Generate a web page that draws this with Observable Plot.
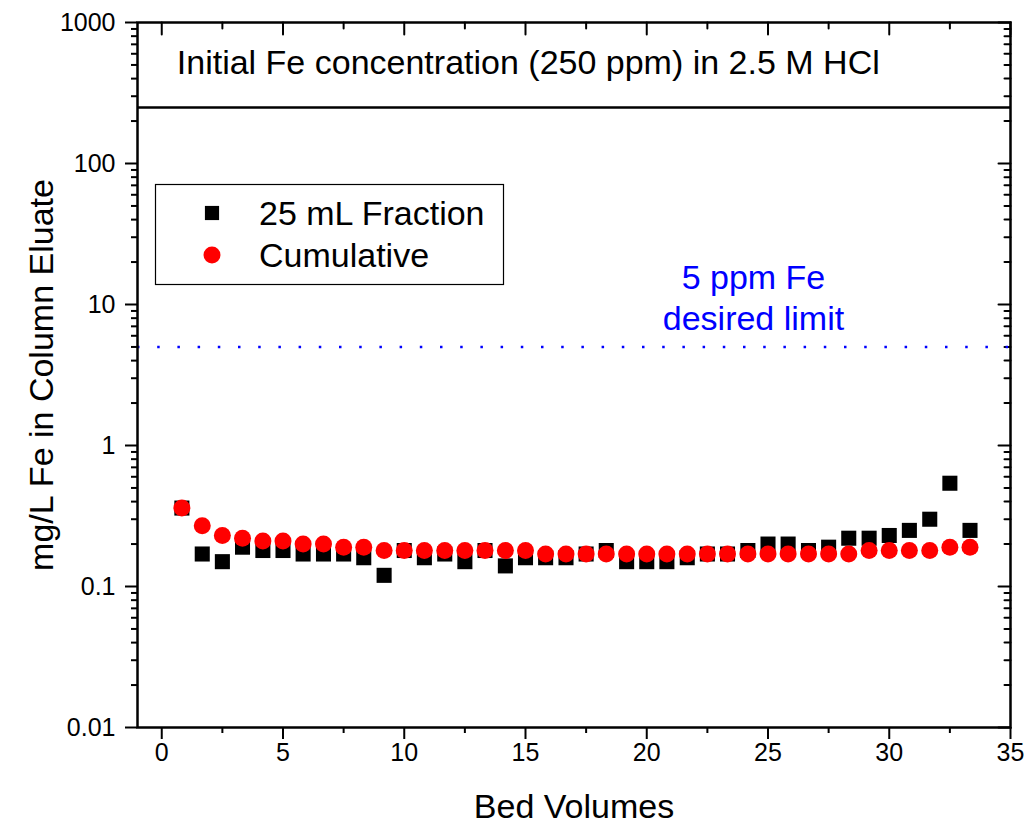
<!DOCTYPE html>
<html>
<head>
<meta charset="utf-8">
<script src="https://cdn.jsdelivr.net/npm/d3@7"></script>
<script src="https://cdn.jsdelivr.net/npm/@observablehq/plot@0.6"></script>
<style>
  html, body { margin: 0; padding: 0; background: #fff; }
  #chart { width: 1029px; height: 826px; }
  svg { font-family: "Liberation Sans", Arial, sans-serif; }
</style>
</head>
<body>
<div id="chart"></div>
<script>
// ---- data ----
const bedVolumes = [0.83, 1.67, 2.5, 3.33, 4.17, 5, 5.83, 6.67, 7.5, 8.33, 9.17, 10, 10.83, 11.67, 12.5, 13.33, 14.17, 15, 15.83, 16.67, 17.5, 18.33, 19.17, 20, 20.83, 21.67, 22.5, 23.33, 24.17, 25, 25.83, 26.67, 27.5, 28.33, 29.17, 30, 30.83, 31.67, 32.5, 33.33];
const fraction = [0.36, 0.17, 0.15, 0.19, 0.18, 0.18, 0.17, 0.17, 0.17, 0.16, 0.12, 0.18, 0.16, 0.17, 0.15, 0.18, 0.14, 0.16, 0.16, 0.16, 0.17, 0.18, 0.15, 0.15, 0.15, 0.16, 0.17, 0.17, 0.18, 0.20, 0.20, 0.18, 0.19, 0.22, 0.22, 0.23, 0.25, 0.30, 0.54, 0.25];
const cumulative = [0.36, 0.27, 0.23, 0.22, 0.21, 0.21, 0.20, 0.20, 0.19, 0.19, 0.18, 0.18, 0.18, 0.18, 0.18, 0.18, 0.18, 0.18, 0.17, 0.17, 0.17, 0.17, 0.17, 0.17, 0.17, 0.17, 0.17, 0.17, 0.17, 0.17, 0.17, 0.17, 0.17, 0.17, 0.18, 0.18, 0.18, 0.18, 0.19, 0.19];
const seriesNames = ["25 mL Fraction", "Cumulative"];
const initialFe = 250;
const limitFe = 5;
const titleText = "Initial Fe concentration (250 ppm) in 2.5 M HCl";
const limitText = "5 ppm Fe\ndesired limit";
const xLabel = "Bed Volumes";
const yLabel = "mg/L Fe in Column Eluate";
const xMajor = [0, 5, 10, 15, 20, 25, 30, 35];
const xMinor = [2.5, 7.5, 12.5, 17.5, 22.5, 27.5, 32.5];
const yMajor = [0.01, 0.1, 1, 10, 100, 1000];
const yTickLabels = ["0.01", "0.1", "1", "10", "100", "1000"];
const yMinor = [0.01, 0.1, 1, 10, 100].flatMap(d => [2,3,4,5,6,7,8,9].map(k => +(d * k).toPrecision(3)));

const fracData = bedVolumes.map((x, i) => ({x, y: fraction[i]}));
const cumData = bedVolumes.map((x, i) => ({x, y: cumulative[i]}));
const yLabelOf = d => yTickLabels[yMajor.indexOf(d)] ?? String(d);

const tickShape = { draw(context, l) { context.moveTo(0, 0); context.lineTo(0, -l); } };
const FS = 34;

const plot = Plot.plot({
  width: 1029,
  height: 826,
  marginLeft: 137,
  marginRight: 19,
  marginTop: 22,
  marginBottom: 99,
  style: { fontFamily: '"Liberation Sans", Arial, sans-serif', background: "#fff" },
  x: { type: "linear", domain: [-1, 35] },
  y: { type: "log", domain: [0.01, 1000] },
  marks: [
    // axes (outward)
    Plot.axisY(yMajor, { anchor: "left", tickSize: 12, tickPadding: 10, fontSize: 25, strokeWidth: 2, tickFormat: yLabelOf, label: null }),
    Plot.axisY(yMinor, { anchor: "left", tickSize: 6, strokeWidth: 2, tickFormat: () => "", label: null }),
    Plot.axisX(xMajor, { anchor: "bottom", tickSize: 12, tickPadding: 4, fontSize: 25, strokeWidth: 2, label: null }),
    Plot.axisX(xMinor, { anchor: "bottom", tickSize: 6, strokeWidth: 2, tickFormat: () => "", label: null }),
    // inward ticks on right and top
    Plot.vector(yMajor, { x: () => 35, y: d => d, length: 12, rotate: -90, anchor: "start", shape: tickShape, stroke: "#000", strokeWidth: 2 }),
    Plot.vector(yMinor, { x: () => 35, y: d => d, length: 6, rotate: -90, anchor: "start", shape: tickShape, stroke: "#000", strokeWidth: 2 }),
    Plot.vector(xMajor, { x: d => d, y: () => 1000, length: 12, rotate: 180, anchor: "start", shape: tickShape, stroke: "#000", strokeWidth: 2 }),
    Plot.vector(xMinor, { x: d => d, y: () => 1000, length: 6, rotate: 180, anchor: "start", shape: tickShape, stroke: "#000", strokeWidth: 2 }),
    // reference lines
    Plot.ruleY([initialFe], { stroke: "#000", strokeWidth: 2.5 }),
    Plot.ruleY([limitFe], { stroke: "#0000ff", strokeWidth: 2.5, strokeDasharray: "2.5,17.7" }),
    // annotations
    Plot.text([titleText], { x: () => 0.62, y: () => 512, text: d => d, textAnchor: "start", lineAnchor: "middle", fontSize: FS, fill: "#000" }),
    Plot.text([limitText], { x: () => 24.4, y: () => 11.4, text: d => d, textAnchor: "middle", lineAnchor: "middle", lineHeight: 1.2, fontSize: FS, fill: "#0000ff" }),
    Plot.text([xLabel], { frameAnchor: "bottom", text: d => d, dy: 80, textAnchor: "middle", lineAnchor: "middle", fontSize: FS, fill: "#000" }),
    Plot.text([yLabel], { frameAnchor: "left", text: d => d, dx: -95, rotate: -90, textAnchor: "middle", lineAnchor: "middle", fontSize: FS, fill: "#000" }),
    // data
    Plot.dot(fracData, { x: "x", y: "y", symbol: "square", r: 8.5, fill: "#000", stroke: "none" }),
    Plot.dot(cumData, { x: "x", y: "y", symbol: "circle", r: 8.5, fill: "#ff0000", stroke: "none" }),
    Plot.frame({ stroke: "#000", strokeWidth: 2.5 })
  ]
});

document.getElementById("chart").appendChild(plot);

// legend (inside plot area, upper left)
const svg = d3.select(plot);
const lg = svg.append("g").attr("class", "legend").attr("text-anchor", "start");
lg.append("rect").attr("x", 155.5).attr("y", 184.5).attr("width", 348).attr("height", 100)
  .attr("fill", "#fff").attr("stroke", "#000").attr("stroke-width", 1.2);
const sq = d3.symbol(d3.symbolSquare, 8 * 8 * Math.PI);
const ci = d3.symbol(d3.symbolCircle, 8.5 * 8.5 * Math.PI);
lg.append("path").attr("d", sq()).attr("transform", "translate(212,213)").attr("fill", "#000");
lg.append("path").attr("d", ci()).attr("transform", "translate(212,255)").attr("fill", "#ff0000");
lg.append("text").attr("x", 259).attr("y", 213).attr("dy", "0.35em").attr("font-size", FS).attr("fill", "#000").attr("text-anchor", "start").text(seriesNames[0]);
lg.append("text").attr("x", 259).attr("y", 255).attr("dy", "0.35em").attr("font-size", FS).attr("fill", "#000").attr("text-anchor", "start").text(seriesNames[1]);
</script>
</body>
</html>
